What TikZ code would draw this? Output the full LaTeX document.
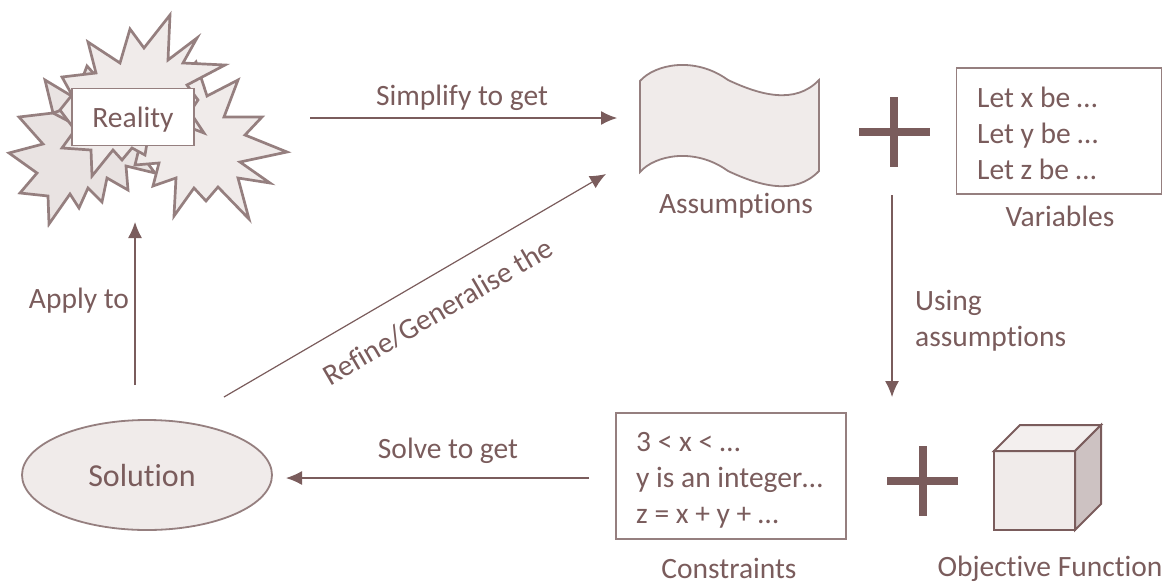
\documentclass[tikz,border=0pt]{standalone}
\usepackage{fontspec}
\setmainfont[Ligatures=NoCommon]{Carlito}
\usetikzlibrary{arrows.meta, shapes.geometric}
\definecolor{txtcol}{HTML}{7A5C5C}
\definecolor{edgecol}{HTML}{957F7F}
\definecolor{fillcol}{HTML}{F0EBEA}
\definecolor{fillcold}{HTML}{E9E3E2}
\definecolor{sidecol}{HTML}{CDC2C2}
\tikzset{
	lbl/.style = {text = txtcol, font = \fontsize{29.5}{36}\selectfont, inner sep = 0pt},
	burst/.style = {draw = edgecol, fill = fillcol, line width = 2.7pt, line join = miter, miter limit = 20},
	plainbox/.style = {draw = edgecol, fill = white, line width = 1.5pt, inner sep = 0pt},
	arrowline/.style = {draw = txtcol, line width = 1.2pt, -{Latex[length = 16pt, width = 14pt]}},
	plusbar/.style = {draw = txtcol, line width = 7.5pt}
}
\begin{document}
\begin{tikzpicture}[x = 1pt, y = -1pt]
	\useasboundingbox (0, 0) rectangle (1164, 581);

	% the bursts round the reality box
	\draw[burst, fill = fillcold] (9, 153) -- (43, 144) -- (19, 117) -- (53, 113) -- (100, 100) -- (155, 173) -- (126, 166) -- (128, 190) -- (107, 178) -- (102, 202) -- (88, 188) -- (79, 208) -- (70, 194) -- (49, 224) -- (48, 196) -- (20, 193) -- (37, 173) -- cycle;
	\draw[burst, fill = fillcold] (45, 80) -- (75, 98) -- (87, 66) -- (96, 76) -- (150, 100) -- (100, 140) -- (72, 123) -- (53, 113) -- cycle;
	\draw[burst] (53, 113) -- (80, 104);
	\draw[burst] (238, 80) -- (207, 96) -- (196, 62) -- (146, 120) -- (135, 165) -- (159, 163) -- (153, 186) -- (176, 178) -- (174, 216) -- (194, 188) -- (206, 201) -- (218, 187) -- (249, 219) -- (238, 178) -- (270, 183) -- (240, 162) -- (287, 152) -- (245, 135) -- (262, 117) -- (224, 117) -- cycle;
	\draw[burst] (170, 15) -- (168, 60) -- (197, 38) -- (183, 63) -- (225, 65) -- (187, 85) -- (198, 100) -- (190, 112) -- (204, 133) -- (175, 122) -- (147, 143) -- (145, 155) -- (132, 148) -- (122, 160) -- (113, 150) -- (92, 176) -- (91, 150) -- (62, 148) -- (75, 130) -- (60, 110) -- (72, 95) -- (62, 77) -- (96, 73) -- (88, 42) -- (120, 63) -- (130, 29) -- (144, 48) -- cycle;

	\node[plainbox, lbl, minimum width = 122pt, minimum height = 57pt, text depth = 2pt] (reality) at (133, 117) {\raisebox{-2pt}{Reality}};

	% assumptions flag
	\draw[draw = edgecol, fill = fillcol, line width = 1.8pt] (640, 81) .. controls (655, 64) and (695, 56) .. (728, 80) .. controls (760, 95) and (795, 105) .. (819, 80) -- (819, 171) .. controls (795, 196) and (760, 186) .. (728, 171) .. controls (695, 147) and (655, 155) .. (640, 172) -- cycle;
	\node[lbl] (assumptions) at (736, 206) {Assumptions};

	\draw[plusbar] (859, 132) -- (930, 132);
	\draw[plusbar] (894, 97) -- (894, 167);

	\node[plainbox, minimum width = 205pt, minimum height = 126pt] (varbox) at (1059, 131) {};
	\node[lbl, align = left, anchor = west] (vartext) at (977, 133) {Let x be …\\Let y be …\\Let z be …};
	\node[lbl] (variables) at (1060, 216) {Variables};

	% constraints and objective
	\node[plainbox, minimum width = 230pt, minimum height = 126pt] (conbox) at (731, 476) {};
	\node[lbl, align = left, anchor = west] (context) at (636, 480) {3 < x < …\\y is an integer…\\z = x + y + …};
	\node[lbl] (constraints) at (729, 568) {Constraints};

	\draw[plusbar] (887, 481) -- (958, 481);
	\draw[plusbar] (923, 446) -- (923, 516);

	\draw[draw = txtcol, fill = fillcol, line width = 2pt] (994, 451) rectangle (1075, 530);
	\draw[draw = txtcol, fill = fillcol!80!white, line width = 2pt] (994, 451) -- (1020, 425) -- (1101, 425) -- (1075, 451) -- cycle;
	\draw[draw = txtcol, fill = sidecol, line width = 2pt] (1075, 451) -- (1101, 425) -- (1101, 504) -- (1075, 530) -- cycle;
	\node[lbl] (objective) at (1050, 569) {Objective Function};

	\node[ellipse, draw = edgecol, fill = fillcol, line width = 1.8pt, minimum width = 250pt, minimum height = 110pt, lbl, font = \fontsize{32}{36}\selectfont] (solution) at (147, 475) {\hspace{-10pt}Solution};

	% connectors
	\coordinate (simplifystart) at (310, 118);
	\coordinate (simplifyend) at (617, 118);
	\draw[arrowline] (simplifystart) -- (simplifyend);
	\node[lbl] (simplifylbl) at (462, 98) {Simplify to get};
	\coordinate (usingstart) at (892, 195);
	\coordinate (usingend) at (892, 397);
	\draw[arrowline] (usingstart) -- (usingend);
	\node[lbl, align = left, anchor = west] (usinglbl) at (915, 321) {Using\\assumptions};
	\coordinate (solvestart) at (589, 478);
	\coordinate (solveend) at (286, 478);
	\draw[arrowline] (solvestart) -- (solveend);
	\node[lbl] (solvelbl) at (448, 451) {Solve to get};
	\coordinate (applystart) at (135, 385);
	\coordinate (applyend) at (135, 222);
	\draw[arrowline] (applystart) -- (applyend);
	\node[lbl] (applylbl) at (79, 301) {Apply to};
	\coordinate (refinestart) at (224, 397);
	\coordinate (refineend) at (606, 174);
	\draw[arrowline] (refinestart) -- (refineend);
	\node[lbl, rotate = 30.3] (refinelbl) at (438, 312) {Refine/Generalise the};
\end{tikzpicture}
\end{document}
